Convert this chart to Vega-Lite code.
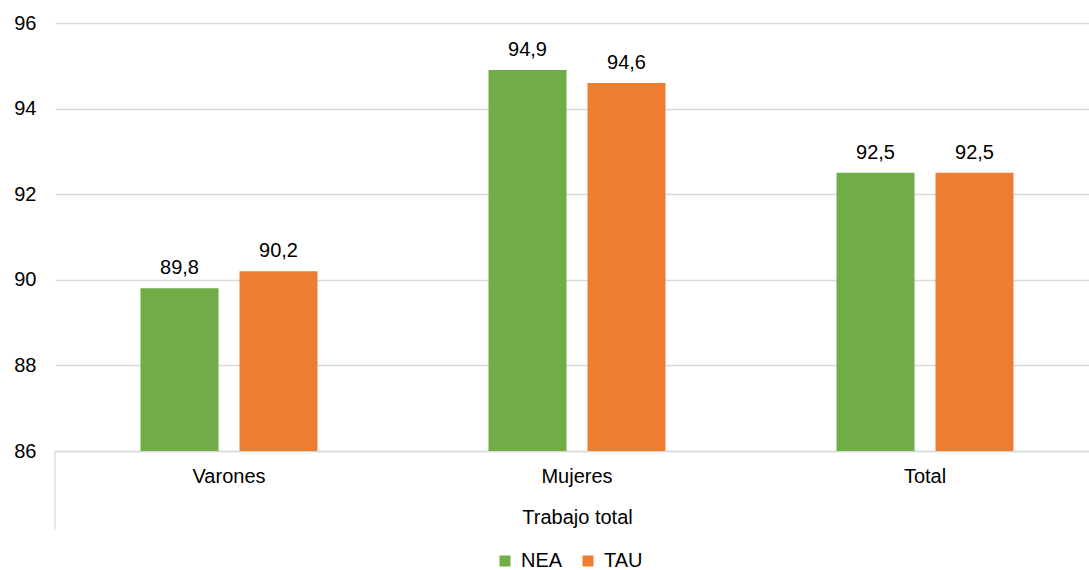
{
  "$schema": "https://vega.github.io/schema/vega-lite/v6.json",
  "autosize": {"type": "none"},
  "width": 1044,
  "height": 428,
  "padding": {"left": 55, "top": 23, "right": 0, "bottom": 119},
  "background": "white",
  "config": {
    "font": "Liberation Sans",
    "view": {"stroke": null},
    "locale": {"number": {"decimal": ",", "thousands": ".", "grouping": [3], "currency": ["", " €"]}}
  },
  "data": {
    "values": [
      {"grupo": "Varones", "serie": "NEA", "valor": 89.8},
      {"grupo": "Varones", "serie": "TAU", "valor": 90.2},
      {"grupo": "Mujeres", "serie": "NEA", "valor": 94.9},
      {"grupo": "Mujeres", "serie": "TAU", "valor": 94.6},
      {"grupo": "Total", "serie": "NEA", "valor": 92.5},
      {"grupo": "Total", "serie": "TAU", "valor": 92.5}
    ]
  },
  "encoding": {
    "x": {
      "field": "grupo", "type": "nominal", "sort": ["Varones", "Mujeres", "Total"],
      "scale": {"paddingInner": 0, "paddingOuter": 0},
      "axis": {
        "title": "Trabajo total", "titleFontSize": 20, "titleFontWeight": "normal", "titleColor": "#000000",
        "titlePadding": 21, "labelFontSize": 20, "labelColor": "#000000", "labelPadding": 15,
        "labelAngle": 0, "ticks": false, "domainColor": "#d9d9d9", "domainWidth": 1.3
      }
    },
    "xOffset": {"field": "serie", "type": "nominal", "scale": {"paddingInner": 0.212, "paddingOuter": 0.8637}},
    "y": {
      "field": "valor", "type": "quantitative",
      "scale": {"domain": [86, 96], "zero": false, "nice": false},
      "axis": {
        "title": null, "values": [86, 88, 90, 92, 94, 96], "format": "d", "labelFontSize": 20, "labelColor": "#000000",
        "labelPadding": 19, "ticks": false, "domain": false, "gridColor": "#d9d9d9", "gridWidth": 1.3
      }
    }
  },
  "layer": [
    {
      "mark": {"type": "bar", "clip": true},
      "encoding": {
        "y2": {"datum": 86},
        "color": {
          "field": "serie", "type": "nominal",
          "scale": {"domain": ["NEA", "TAU"], "range": ["#70AD47", "#ED7D31"]},
          "legend": {
            "title": null, "orient": "none", "legendX": 440, "legendY": 528, "direction": "horizontal",
            "symbolType": "square", "symbolSize": 121, "symbolStrokeWidth": 0, "labelFontSize": 20, "labelColor": "#000000",
            "padding": 0, "columnPadding": 15, "labelOffset": 6
          }
        }
      }
    },
    {
      "mark": {"type": "text", "baseline": "alphabetic", "dy": -14, "fontSize": 20, "color": "#000000"},
      "encoding": {"text": {"field": "valor", "type": "quantitative", "format": ".1f"}}
    },
    {
      "data": {"values": [{"grupo": "Varones", "y0": 86, "y1": 84.17}]},
      "mark": {"type": "rule", "color": "#d9d9d9", "strokeWidth": 1.3, "clip": false},
      "encoding": {
        "x": {"field": "grupo", "type": "nominal", "bandPosition": 0},
        "xOffset": null,
        "y": {"field": "y0", "type": "quantitative"},
        "y2": {"field": "y1"}
      }
    }
  ]
}
